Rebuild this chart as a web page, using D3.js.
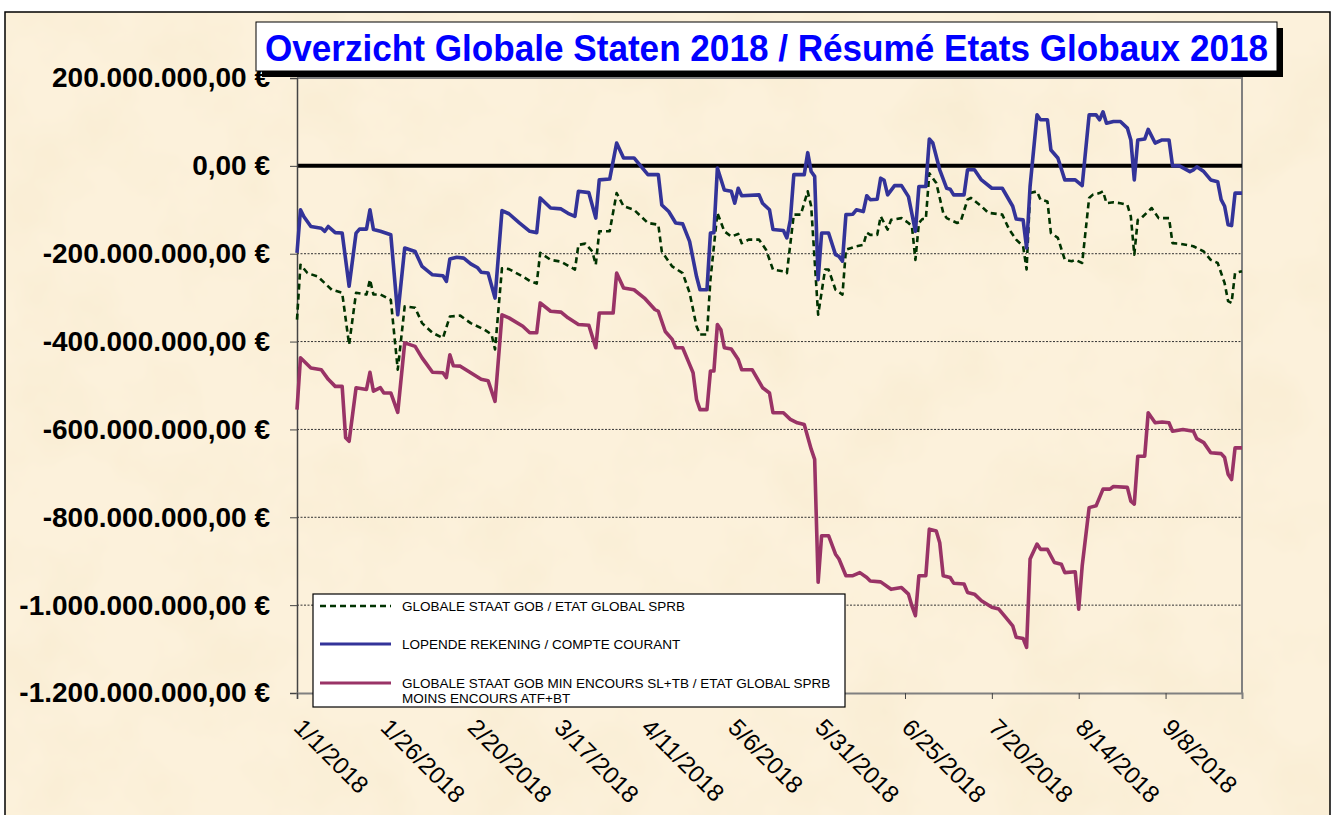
<!DOCTYPE html>
<html>
<head>
<meta charset="utf-8">
<script src="https://cdn.jsdelivr.net/npm/d3@7/dist/d3.min.js"></script>
<style>
    body { margin: 0; background: #fff; }
    svg { display: block; }
</style>
</head>
<body>
<script>
// day of year (0 = 1/1/2018), value in millions of euro
const globaleStaat = [
    [0,-350],[1,-225],[3,-244],[6,-252],[8,-267],[10,-282],[13,-289],[15,-407],[17,-289],[20,-293],[21,-259],[22,-293],[24,-293],[27,-305],[29,-464],[31,-320],[34,-323],[36,-358],[39,-380],[42,-392],[44,-343],[47,-341],[50,-358],[54,-373],[56,-384],[57,-418],[59,-233],[61,-235],[65,-252],[67,-262],[69,-268],[70,-198],[73,-214],[76,-218],[80,-236],[81,-180],[83,-177],[85,-195],[86,-225],[87,-149],[90,-149],[92,-62],[94,-92],[97,-100],[101,-130],[104,-134],[105,-195],[108,-229],[111,-244],[113,-289],[115,-365],[116,-384],[118,-384],[119,-259],[120,-183],[121,-107],[123,-149],[125,-161],[127,-155],[128,-176],[130,-168],[133,-168],[135,-191],[137,-236],[140,-240],[141,-244],[143,-111],[145,-111],[147,-58],[148,-92],[150,-339],[152,-236],[153,-236],[155,-282],[157,-293],[158,-191],[161,-183],[163,-180],[164,-152],[165,-157],[167,-157],[168,-115],[170,-145],[171,-123],[174,-119],[176,-130],[177,-138],[178,-214],[179,-130],[180,-121],[181,-121],[182,-17],[184,-39],[186,-107],[187,-119],[190,-130],[191,-127],[193,-77],[194,-73],[197,-92],[199,-107],[203,-111],[205,-145],[207,-168],[209,-183],[210,-236],[211,-62],[213,-58],[214,-77],[216,-81],[217,-153],[219,-164],[221,-214],[223,-217],[224,-214],[226,-221],[228,-73],[229,-66],[231,-62],[232,-58],[233,-85],[235,-83],[237,-85],[239,-89],[240,-115],[241,-202],[242,-123],[243,-119],[246,-96],[248,-119],[251,-119],[252,-176],[254,-177],[258,-183],[261,-195],[263,-214],[265,-221],[267,-267],[268,-308],[269,-312],[270,-244],[272,-240]
];

const lopendeRekening = [
    [0,-198],[1,-100],[2,-116],[4,-138],[7,-142],[8,-149],[9,-138],[11,-152],[13,-153],[15,-274],[17,-153],[18,-144],[20,-144],[21,-100],[22,-145],[24,-149],[27,-157],[29,-339],[31,-187],[34,-195],[36,-229],[39,-248],[42,-250],[43,-263],[44,-212],[46,-208],[48,-210],[50,-223],[52,-232],[53,-242],[55,-244],[57,-301],[59,-102],[61,-109],[64,-130],[67,-149],[69,-152],[70,-73],[73,-96],[76,-98],[78,-108],[80,-115],[81,-58],[84,-61],[86,-119],[87,-32],[90,-30],[92,52],[94,18],[97,18],[101,-20],[104,-20],[105,-89],[107,-104],[109,-130],[111,-132],[113,-172],[115,-252],[116,-282],[118,-282],[119,-153],[120,-152],[121,-5],[123,-55],[125,-58],[126,-85],[127,-51],[128,-68],[133,-66],[134,-85],[136,-100],[137,-145],[140,-147],[141,-164],[142,-123],[143,-20],[146,-20],[147,30],[148,-13],[149,-24],[150,-259],[151,-153],[153,-153],[155,-202],[156,-206],[157,-217],[158,-111],[160,-110],[161,-100],[163,-104],[164,-68],[165,-77],[167,-76],[168,-28],[169,-33],[170,-66],[172,-45],[174,-45],[176,-70],[178,-149],[179,-47],[181,-47],[182,61],[183,52],[185,-9],[187,-51],[188,-53],[189,-66],[192,-66],[193,-9],[195,-9],[197,-32],[200,-51],[203,-51],[206,-92],[207,-121],[209,-123],[210,-187],[211,-47],[213,116],[214,105],[216,105],[217,36],[219,18],[221,-32],[224,-32],[226,-45],[228,116],[230,116],[231,105],[232,123],[233,97],[235,101],[237,101],[239,86],[240,59],[241,-32],[242,59],[244,61],[245,83],[247,52],[249,59],[251,59],[252,0],[254,0],[257,-13],[258,-9],[259,-2],[261,-13],[263,-32],[265,-36],[266,-77],[267,-92],[268,-134],[269,-136],[270,-62],[272,-62]
];

const staatMinEncours = [
    [0,-555],[1,-437],[4,-460],[7,-464],[9,-486],[11,-502],[13,-502],[14,-619],[15,-627],[17,-505],[20,-509],[21,-470],[22,-513],[24,-505],[25,-517],[27,-517],[29,-561],[31,-403],[34,-411],[36,-437],[37,-448],[39,-470],[42,-471],[43,-482],[44,-430],[45,-455],[47,-456],[50,-471],[53,-486],[55,-489],[57,-536],[59,-339],[61,-346],[65,-365],[67,-380],[69,-380],[70,-312],[73,-331],[76,-333],[78,-346],[81,-361],[84,-363],[86,-414],[87,-335],[91,-335],[92,-244],[94,-278],[97,-282],[100,-301],[103,-327],[104,-331],[106,-377],[108,-395],[109,-414],[111,-414],[113,-452],[114,-471],[115,-532],[116,-555],[118,-555],[119,-467],[120,-467],[121,-361],[122,-373],[123,-414],[125,-417],[127,-441],[128,-464],[131,-464],[134,-505],[136,-517],[137,-562],[140,-562],[142,-577],[144,-585],[146,-589],[148,-645],[149,-668],[150,-948],[151,-842],[153,-842],[155,-884],[156,-895],[158,-933],[160,-933],[162,-926],[164,-937],[165,-945],[168,-947],[171,-964],[174,-960],[176,-975],[177,-1002],[178,-1024],[179,-933],[181,-933],[182,-827],[184,-831],[185,-858],[186,-933],[188,-937],[189,-950],[192,-952],[193,-971],[195,-975],[197,-990],[200,-1005],[202,-1009],[204,-1028],[206,-1047],[207,-1073],[209,-1076],[210,-1096],[211,-895],[213,-861],[214,-873],[216,-873],[218,-903],[220,-907],[221,-926],[224,-924],[225,-1009],[226,-911],[228,-778],[230,-774],[232,-736],[234,-736],[235,-730],[239,-732],[240,-763],[241,-770],[242,-661],[244,-661],[245,-562],[247,-585],[249,-583],[251,-585],[252,-604],[255,-600],[258,-604],[259,-621],[261,-630],[263,-653],[266,-655],[267,-664],[268,-702],[269,-714],[270,-642],[272,-642]
];

const seriesNames = [
    ["GLOBALE STAAT GOB / ETAT GLOBAL SPRB"],
    ["LOPENDE REKENING / COMPTE COURANT"],
    ["GLOBALE STAAT GOB MIN ENCOURS SL+TB / ETAT GLOBAL SPRB", "MOINS ENCOURS ATF+BT"]
];

const xTickLabels = ["1/1/2018", "1/26/2018", "2/20/2018", "3/17/2018", "4/11/2018", "5/6/2018",
    "5/31/2018", "6/25/2018", "7/20/2018", "8/14/2018", "9/8/2018"];
const yTickValues = [200, 0, -200, -400, -600, -800, -1000, -1200];

const chartTitle = "Overzicht Globale Staten 2018 / Résumé Etats Globaux 2018";

class StatenChart {
    constructor({ width = 1334, height = 815 }) {
        this.width = width;
        this.height = height;
        this.start = new Date(2018, 0, 1);
        this.plot = { left: 297, right: 1242, top: 78, bottom: 693 };
        this.x = d3.scaleTime()
            .domain([this.start, d3.timeDay.offset(this.start, 272)])
            .range([this.plot.left, this.plot.right]);
        this.y = d3.scaleLinear()
            .domain([-1200, 200])
            .range([this.plot.bottom, this.plot.top]);
        this.euro = d3.formatLocale({
            decimal: ",", thousands: ".", grouping: [3], currency: ["", " €"], minus: "-"
        }).format("$,.2f");
        this.series = [
            { data: globaleStaat, color: "#003300", width: 2.6, dash: "6,4" },
            { data: lopendeRekening, color: "#333399", width: 3.6, dash: null },
            { data: staatMinEncours, color: "#993366", width: 3.6, dash: null }
        ];
    }

    draw() {
        this.svg = d3.select("body").append("svg")
            .attr("width", this.width)
            .attr("height", this.height);
        this._drawBackground();
        this._drawGrid();
        this._drawAxes();
        this._drawLines();
        this._drawLegend();
        this._drawTitle();
    }

    _drawBackground() {
        const defs = this.svg.append("defs");
        const f = defs.append("filter").attr("id", "paper")
            .attr("x", 0).attr("y", 0).attr("width", "100%").attr("height", "100%");
        f.append("feTurbulence")
            .attr("type", "fractalNoise")
            .attr("baseFrequency", "0.011")
            .attr("numOctaves", 4)
            .attr("seed", 7);
        f.append("feColorMatrix")
            .attr("type", "matrix")
            .attr("values", "0 0 0 0 0.91  0 0 0 0 0.80  0 0 0 0 0.58  0.9 0 0 0 -0.38");

        this.svg.append("rect")
            .attr("x", 5).attr("y", 12)
            .attr("width", 1325).attr("height", this.height)
            .attr("fill", "#fcf1db");
        this.svg.append("rect")
            .attr("x", 5).attr("y", 12)
            .attr("width", 1325).attr("height", this.height)
            .attr("filter", "url(#paper)");
        this.svg.append("rect")
            .attr("x", 5).attr("y", 12)
            .attr("width", 1325).attr("height", this.height + 10)
            .attr("fill", "none")
            .attr("stroke", "#000")
            .attr("stroke-width", 1.5);
    }

    _drawGrid() {
        const p = this.plot;
        this.svg.append("g").selectAll("line")
            .data(yTickValues.filter(v => v < 0 && v > -1200))
            .enter().append("line")
            .attr("x1", p.left).attr("x2", p.right)
            .attr("y1", d => this.y(d)).attr("y2", d => this.y(d))
            .style("stroke", "#333")
            .style("stroke-width", "1px")
            .style("stroke-dasharray", "2,1.5");
        // plot border top / right
        this.svg.append("path")
            .attr("d", "M" + p.left + "," + p.top + "H" + p.right + "V" + p.bottom)
            .attr("fill", "none")
            .attr("stroke", "#808080")
            .attr("stroke-width", 2);
        // zero line
        this.svg.append("line")
            .attr("x1", p.left).attr("x2", p.right)
            .attr("y1", this.y(0)).attr("y2", this.y(0))
            .style("stroke", "#000")
            .style("stroke-width", "4px");
    }

    _drawAxes() {
        const p = this.plot;
        const yAxis = this.svg.append("g")
            .attr("transform", "translate(" + p.left + ",0)")
            .call(d3.axisLeft(this.y)
                .tickValues(yTickValues)
                .tickSize(7)
                .tickPadding(20)
                .tickFormat(d => this.euro(d * 1e6)));
        yAxis.select(".domain").attr("stroke", "#444").attr("stroke-width", 1.5);
        yAxis.selectAll(".tick line").attr("stroke", "#444");
        yAxis.selectAll("text")
            .attr("font-family", "'Liberation Sans', Arial, sans-serif")
            .attr("font-weight", "bold")
            .attr("font-size", "28px")
            .attr("fill", "#000");

        const tickDates = xTickLabels.map(s => d3.timeParse("%m/%d/%Y")(s));
        const xAxis = this.svg.append("g")
            .attr("transform", "translate(0," + p.bottom + ")")
            .call(d3.axisBottom(this.x)
                .tickValues(tickDates)
                .tickSize(6)
                .tickFormat((d, i) => xTickLabels[i]));
        xAxis.select(".domain").attr("stroke", "#808080").attr("stroke-width", 2);
        xAxis.selectAll(".tick line").attr("stroke", "#444");
        xAxis.selectAll("text")
            .attr("y", null)
            .attr("dy", null)
            .attr("text-anchor", "start")
            .attr("transform", "translate(-5,36) rotate(45)")
            .attr("font-family", "'Liberation Sans', Arial, sans-serif")
            .attr("font-size", "24px")
            .attr("fill", "#000");
    }

    _drawLines() {
        const line = d3.line()
            .x(d => this.x(d3.timeDay.offset(this.start, d[0])))
            .y(d => this.y(d[1]));
        this.svg.append("g").selectAll(".serie")
            .data(this.series)
            .enter().append("path")
            .attr("class", "serie")
            .attr("d", d => line(d.data))
            .style("fill", "none")
            .style("stroke", d => d.color)
            .style("stroke-width", d => d.width + "px")
            .style("stroke-dasharray", d => d.dash)
            .style("stroke-linejoin", "round");
    }

    _drawLegend() {
        const g = this.svg.append("g").attr("class", "legend");
        g.append("rect")
            .attr("x", 313).attr("y", 594)
            .attr("width", 532).attr("height", 113)
            .attr("fill", "#fff")
            .attr("stroke", "#000")
            .attr("stroke-width", 1.2);
        const rowY = [606, 644, 683];
        const items = g.selectAll(".item")
            .data(this.series)
            .enter().append("g")
            .attr("class", "item")
            .attr("transform", (d, i) => "translate(0," + rowY[i] + ")");
        items.append("line")
            .attr("x1", 320).attr("x2", 391)
            .style("stroke", d => d.color)
            .style("stroke-width", d => (d.dash ? 2.6 : 3) + "px")
            .style("stroke-dasharray", d => d.dash);
        items.append("text")
            .attr("x", 402)
            .attr("font-family", "'Liberation Sans', Arial, sans-serif")
            .attr("font-size", "13.5px")
            .attr("fill", "#000")
            .selectAll("tspan")
            .data((d, i) => seriesNames[i])
            .enter().append("tspan")
            .attr("x", 402)
            .attr("dy", (d, i) => i === 0 ? "0.35em" : "1.15em")
            .text(d => d);
    }

    _drawTitle() {
        const g = this.svg.append("g");
        g.append("rect")
            .attr("x", 262).attr("y", 28)
            .attr("width", 1021).attr("height", 49)
            .attr("fill", "#000");
        g.append("rect")
            .attr("x", 256).attr("y", 22)
            .attr("width", 1021).attr("height", 49)
            .attr("fill", "#fff")
            .attr("stroke", "#000")
            .attr("stroke-width", 1);
        g.append("text")
            .attr("x", 265)
            .attr("y", 61)
            .attr("textLength", 1003)
            .attr("lengthAdjust", "spacingAndGlyphs")
            .attr("font-family", "'Liberation Sans', Arial, sans-serif")
            .attr("font-weight", "bold")
            .attr("font-size", "37px")
            .attr("fill", "#0000ff")
            .text(chartTitle);
    }
}

new StatenChart({ width: 1334, height: 815 }).draw();
</script>
</body>
</html>
